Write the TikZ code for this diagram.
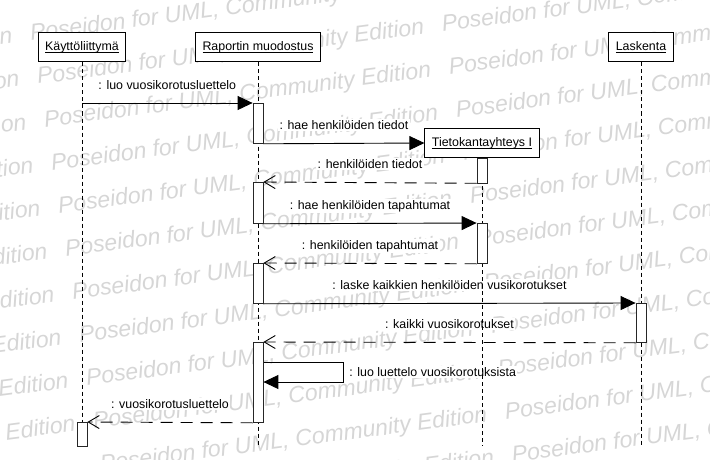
\documentclass[tikz,border=0pt]{standalone}
\usepackage{fontspec}
\setmainfont{Liberation Sans}
\usetikzlibrary{arrows.meta}

\pgfdeclarelayer{wmlayer}
\pgfdeclarelayer{msglayer}
\pgfdeclarelayer{lifelayer}
\pgfsetlayers{wmlayer,msglayer,lifelayer,main}

\begin{document}
\begin{tikzpicture}[x=1pt,y=-1pt,
    every node/.style={font=\fontsize{12.4pt}{14pt}\selectfont},
    obj/.style={draw,fill=white,line width=1pt,minimum height=29pt,inner xsep=7pt,inner ysep=0pt},
    act/.style={draw=black!85,fill=white,line width=0.8pt,minimum width=10pt,inner sep=0pt,anchor=north},
    life/.style={dash pattern=on 4pt off 3pt,line width=0.8pt},
    call/.style={line width=0.9pt,-{Triangle[length=15pt,width=14pt]}},
    reply/.style={line width=0.9pt,dash pattern=on 12pt off 8pt,-{Straight Barb[length=11pt,width=13pt]}},
    msglbl/.style={fill=white,inner sep=1.5pt,anchor=base,yshift=14pt},
    wmark/.style={anchor=base west,rotate=7.4,inner sep=0pt,text=black!16,font=\fontsize{23pt}{25pt}\selectfont\itshape}]
    \useasboundingbox (0,0) rectangle (710,460);

    \node[obj] (ui) at (82,47.5) {\underbar{Käyttöliittymä}};
    \node[obj] (rep) at (258,47.5) {\underbar{Raportin muodostus}};
    \node[obj] (las) at (641,47.5) {\underbar{Laskenta}};
    \node[obj] (tdb) at (482,143) {\underbar{Tietokantayhteys I}};

    \node[act,minimum height=40pt] (rep1) at (258,103) {};
    \node[act,minimum height=24.5pt] (tdb1) at (tdb.south) {};
    \node[act,minimum height=41pt] (rep2) at (258,182) {};
    \node[act,minimum height=40pt] (tdb2) at (482,223) {};
    \node[act,minimum height=40pt] (rep3) at (258,263) {};
    \node[act,minimum height=39pt] (las1) at (641,303) {};
    \node[act,minimum height=80pt] (rep4) at (258,342) {};
    \node[act,minimum height=24pt] (ui1) at (82,422) {};

    \coordinate (ui0) at (82,103);
    \coordinate (uiend) at (82,446);
    \coordinate (repend) at (258,446);
    \coordinate (tdbend) at (482,446);
    \coordinate (lasend) at (641,446);

    \begin{pgfonlayer}{wmlayer}
      \begin{scope}
        \clip (0,0) rectangle (710,460);
        \foreach \k in {0,...,12}{
          \pgfmathsetmacro{\px}{38+7*(\k-2)}
          \pgfmathsetmacro{\py}{263+44*(\k-6)-0.13*(\px-15)}
          \foreach \j in {-1,0,1,2}
            \node[wmark] (wm\k-\j) at ({\px+404.6*\j},{\py-52.5*\j}) {Poseidon for UML, Community Edition};
        }
      \end{scope}
    \end{pgfonlayer}

    \begin{pgfonlayer}{lifelayer}
      \draw[life] (ui) -- (uiend);
      \draw[life] (rep) -- (repend);
      \draw[life] (tdb) -- (tdbend);
      \draw[life] (las) -- (lasend);
    \end{pgfonlayer}

    \begin{pgfonlayer}{msglayer}
      \draw[call] (ui0) -- (rep1.north west) node[msglbl,midway] (m1) {: luo vuosikorotusluettelo};
      \draw[call] (rep1.south east) -- (tdb.west) node[msglbl,midway] (m2) {: hae henkilöiden tiedot};
      \draw[reply] (tdb1.south west) -- (rep2.north east) node[msglbl,midway] (m3) {: henkilöiden tiedot};
      \draw[call] (rep2.south east) -- (tdb2.north west) node[msglbl,midway] (m4) {: hae henkilöiden tapahtumat};
      \draw[reply] (tdb2.south west) -- (rep3.north east) node[msglbl,midway] (m5) {: henkilöiden tapahtumat};
      \draw[call] (rep3.south east) -- (las1.north west) node[msglbl,midway] (m6) {: laske kaikkien henkilöiden vusikorotukset};
      \draw[reply] (las1.south west) -- (rep4.north east) node[msglbl,midway] (m7) {: kaikki vuosikorotukset};
      \draw[call] ([yshift=-20pt]rep4.north east) -- ++(80,0) -- ++(0,20)
        node[midway,anchor=west,fill=white,inner sep=1.5pt,xshift=4pt] (m8) {: luo luettelo vuosikorotuksista}
        -- ([yshift=-40pt]rep4.north east);
      \draw[reply] (rep4.south west) -- (ui1.north east) node[msglbl,midway] (m9) {: vuosikorotusluettelo};
    \end{pgfonlayer}
\end{tikzpicture}
\end{document}
